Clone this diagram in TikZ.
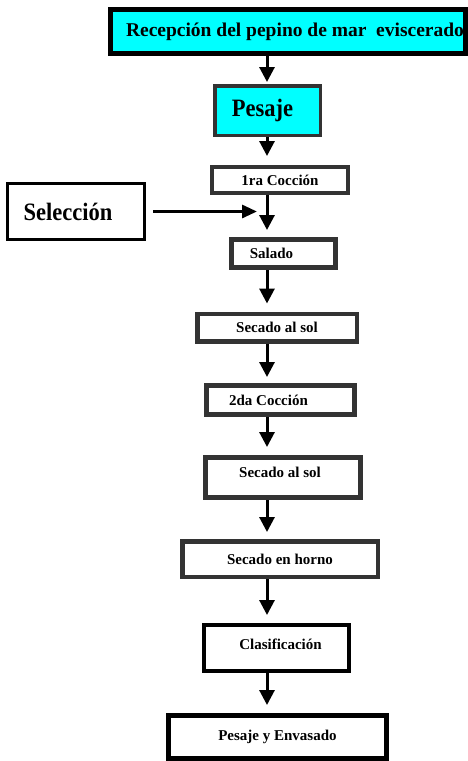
\documentclass[tikz,border=0pt]{standalone}
\usepackage{fontspec}
\setmainfont{Liberation Serif}
\newfontfamily\condfont[FakeStretch=0.9]{Liberation Serif}
\usetikzlibrary{arrows.meta}
\definecolor{cyanfill}{RGB}{0,255,255}
\definecolor{dgray}{RGB}{51,51,51}
\newcommand{\shtext}[2]{\hspace*{#1}#2\hspace*{-#1}}
\newcommand{\uptext}[2]{\raisebox{#1}[\height][\depth]{#2}}
\begin{document}
\begin{tikzpicture}[x=1pt,y=-1pt,
  box/.style={draw=dgray, fill=white, rectangle, inner sep=0pt,
    font=\bfseries\fontsize{15}{18}\selectfont},
  bigbox/.style={box, font=\condfont\bfseries\fontsize{25}{30}\selectfont},
  arr/.style={line width=3pt, -{Triangle[width=15pt,length=15pt]}},
  harr/.style={line width=3pt, -{Triangle[width=13pt,length=15pt]}}
]
\useasboundingbox (0,0) rectangle (468,761);
\fill[white] (0,0) rectangle (468,761);
\coordinate (sp) at (267,0);

\node[box, draw=black, fill=cyanfill, line width=5pt, minimum width=355pt, minimum height=44pt,
  font=\bfseries\fontsize{19.5}{22}\selectfont] (rec) at (288,31.5)
  {\shtext{7pt}{Recepción del pepino de mar\ \ eviscerado}};
\node[bigbox, fill=cyanfill, line width=3.5pt, minimum width=105.5pt, minimum height=49.5pt] (pes) at (267.5,110.5)
  {\shtext{-5pt}{Pesaje}};
\node[box, line width=4pt, minimum width=136pt, minimum height=26pt] (c1) at (280,180) {1ra Cocción};
\node[bigbox, draw=black, line width=3pt, minimum width=137pt, minimum height=56pt] (sel) at (76,211.5)
  {\shtext{-8pt}{Selección}};
\node[box, line width=5pt, minimum width=104pt, minimum height=28pt] (sal) at (283.5,253.5)
  {\shtext{-12pt}{Salado}};
\node[box, line width=4.5pt, minimum width=159.5pt, minimum height=27.5pt] (s1) at (277,327.5) {Secado al sol};
\node[box, line width=5pt, minimum width=148pt, minimum height=29pt] (c2) at (280.5,400)
  {\shtext{-12pt}{2da Cocción}};
\node[box, line width=5pt, minimum width=155pt, minimum height=40pt] (s2) at (283,477.5)
  {\shtext{-3pt}{\uptext{5pt}{Secado al sol}}};
\node[box, line width=4.5pt, minimum width=195.5pt, minimum height=35.5pt] (hor) at (280,559) {Secado en horno};
\node[box, draw=black, line width=4pt, minimum width=145pt, minimum height=46pt] (cla) at (276.5,648)
  {\shtext{4pt}{\uptext{4pt}{Clasificación}}};
\node[box, draw=black, line width=5pt, minimum width=218pt, minimum height=43pt] (pye) at (277.5,737)
  {Pesaje y Envasado};

\draw[arr, shorten >=2pt] (rec.south -| sp) -- (pes.north -| sp);
\draw[arr, shorten >=9pt] (pes.south -| sp) -- (c1.north -| sp);
\draw[arr, shorten >=7pt] (c1.south -| sp) -- (sal.north -| sp);
\draw[arr, shorten >=8pt] (sal.south -| sp) -- (s1.north -| sp);
\draw[arr, shorten >=6pt] (s1.south -| sp) -- (c2.north -| sp);
\draw[arr, shorten >=8pt] (c2.south -| sp) -- (s2.north -| sp);
\draw[arr, shorten >=7pt] (s2.south -| sp) -- (hor.north -| sp);
\draw[arr, shorten >=8pt] (hor.south -| sp) -- (cla.north -| sp);
\draw[arr, shorten >=8pt] (cla.south -| sp) -- (pye.north -| sp);
\coordinate (j) at (sp |- sel.east);
\draw[harr, shorten <=7pt, shorten >=10pt] (sel.east) -- (j);
\end{tikzpicture}
\end{document}
